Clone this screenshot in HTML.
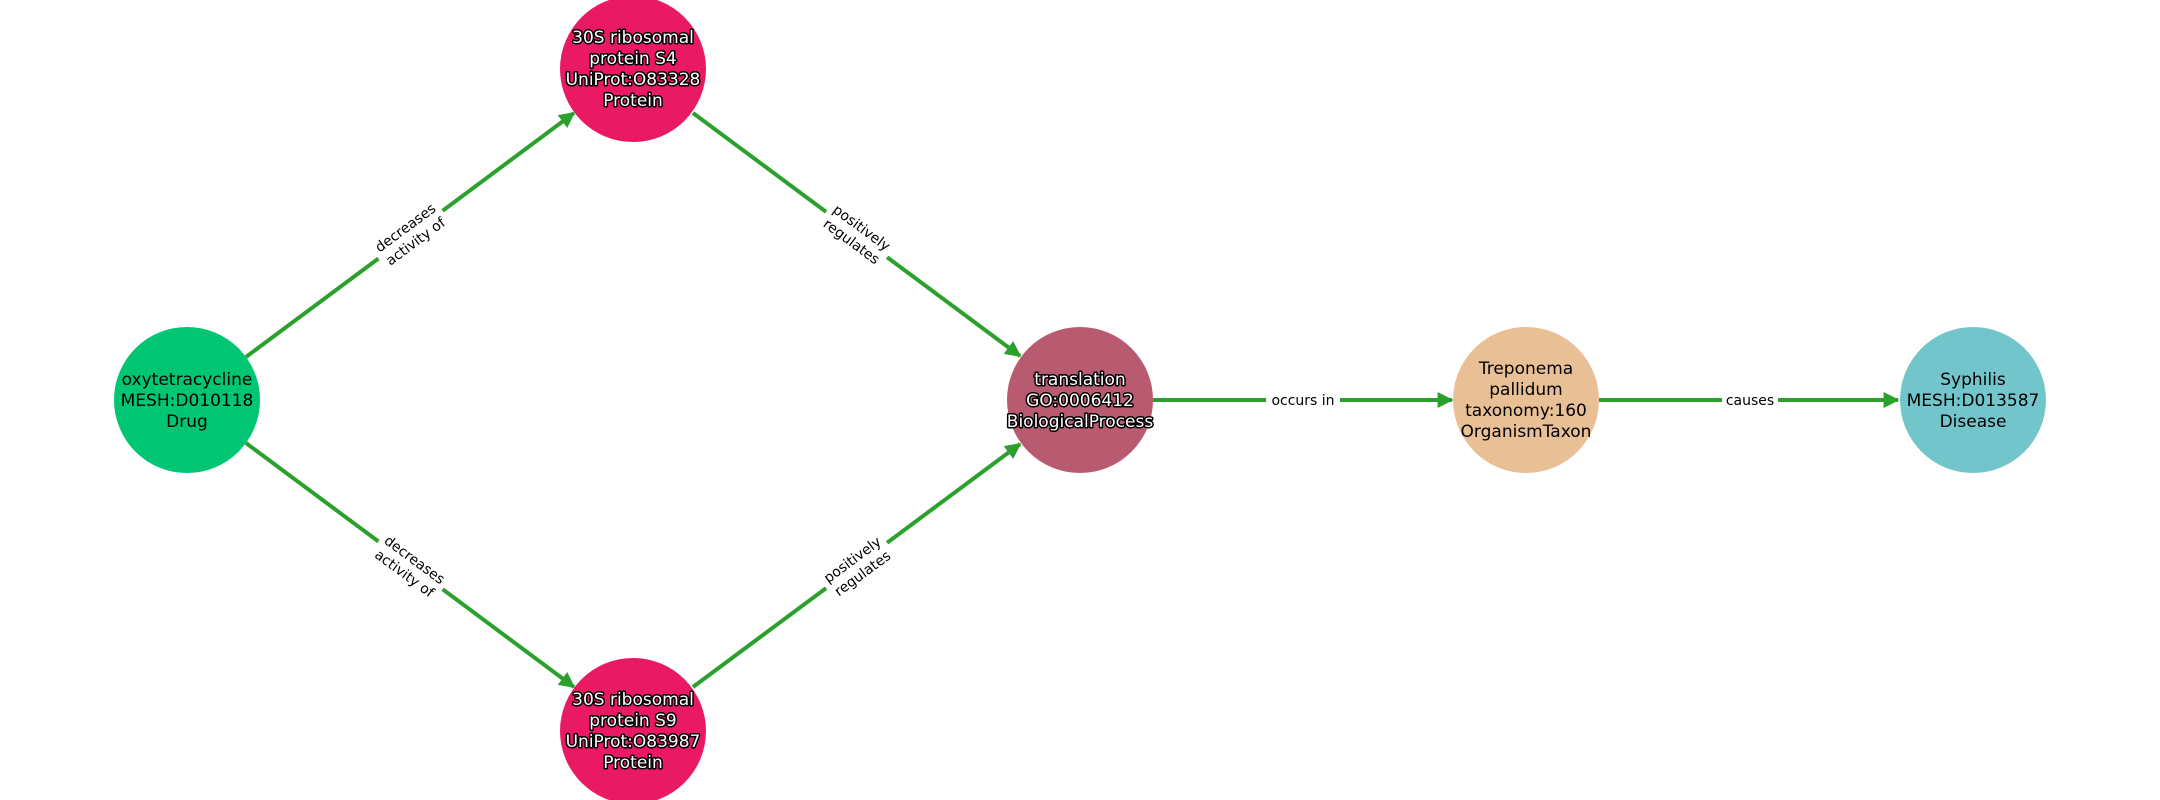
<!DOCTYPE html>
<html><head><meta charset="utf-8"><style>
html,body{margin:0;padding:0;background:#fff;}
svg{display:block;font-family:"DejaVu Sans","Liberation Sans",sans-serif;}
.n{font-size:17px;text-anchor:middle;}
.w{fill:#fff;stroke:#000;stroke-width:3px;paint-order:stroke;stroke-linejoin:round;}
.e{font-size:14px;text-anchor:middle;fill:#000;}
</style></head><body>
<svg width="2160" height="800" viewBox="0 0 2160 800">
<defs>
<marker id="a" viewBox="0 0 10 10" refX="9" refY="5" markerWidth="4" markerHeight="4" orient="auto" markerUnits="strokeWidth">
<path d="M0,0 L10,5 L0,10 Z" fill="#2ca02c"/></marker>
</defs>
<g stroke="#2ca02c" stroke-width="4" fill="none" marker-end="url(#a)">
<line x1="246" y1="357" x2="574" y2="113"/>
<line x1="246" y1="443" x2="574" y2="687"/>
<line x1="693" y1="113" x2="1020" y2="356"/>
<line x1="693" y1="687" x2="1020" y2="444"/>
<line x1="1153" y1="400" x2="1452" y2="400"/>
<line x1="1599" y1="400" x2="1898" y2="400"/>
</g>
<g>
<g transform="translate(410,234) rotate(-36.5)"><rect x="-40" y="-19" width="80" height="38" fill="#fff"/><text class="e" y="-3">decreases</text><text class="e" y="14">activity of</text></g>
<g transform="translate(410,566) rotate(36.5)"><rect x="-40" y="-19" width="80" height="38" fill="#fff"/><text class="e" y="-3">decreases</text><text class="e" y="14">activity of</text></g>
<g transform="translate(857,234) rotate(36.5)"><rect x="-38" y="-19" width="76" height="38" fill="#fff"/><text class="e" y="-3">positively</text><text class="e" y="14">regulates</text></g>
<g transform="translate(857,566) rotate(-36.5)"><rect x="-38" y="-19" width="76" height="38" fill="#fff"/><text class="e" y="-3">positively</text><text class="e" y="14">regulates</text></g>
<rect x="1266" y="390" width="74" height="20" fill="#fff"/><text class="e" x="1303" y="405">occurs in</text>
<rect x="1722" y="390" width="56" height="20" fill="#fff"/><text class="e" x="1750" y="405">causes</text>
</g>
<circle cx="187" cy="400" r="73" fill="#00c572"/>
<circle cx="633" cy="69" r="73" fill="#e91a63"/>
<circle cx="633" cy="731" r="73" fill="#e91a63"/>
<circle cx="1080" cy="400" r="73" fill="#b85a70"/>
<circle cx="1526" cy="400" r="73" fill="#e9bf96"/>
<circle cx="1973" cy="400" r="73" fill="#72c6cb"/>
<text class="n" x="187" y="385">oxytetracycline</text><text class="n" x="187" y="406">MESH:D010118</text><text class="n" x="187" y="427">Drug</text>
<g class="w"><text class="n" x="633" y="43">30S ribosomal</text><text class="n" x="633" y="64">protein S4</text><text class="n" x="633" y="85">UniProt:O83328</text><text class="n" x="633" y="106">Protein</text></g>
<g class="w"><text class="n" x="633" y="705">30S ribosomal</text><text class="n" x="633" y="726">protein S9</text><text class="n" x="633" y="747">UniProt:O83987</text><text class="n" x="633" y="768">Protein</text></g>
<g class="w"><text class="n" x="1080" y="385">translation</text><text class="n" x="1080" y="406">GO:0006412</text><text class="n" x="1080" y="427">BiologicalProcess</text></g>
<text class="n" x="1526" y="374">Treponema</text><text class="n" x="1526" y="395">pallidum</text><text class="n" x="1526" y="416">taxonomy:160</text><text class="n" x="1526" y="437">OrganismTaxon</text>
<text class="n" x="1973" y="385">Syphilis</text><text class="n" x="1973" y="406">MESH:D013587</text><text class="n" x="1973" y="427">Disease</text>
</svg>
</body></html>
